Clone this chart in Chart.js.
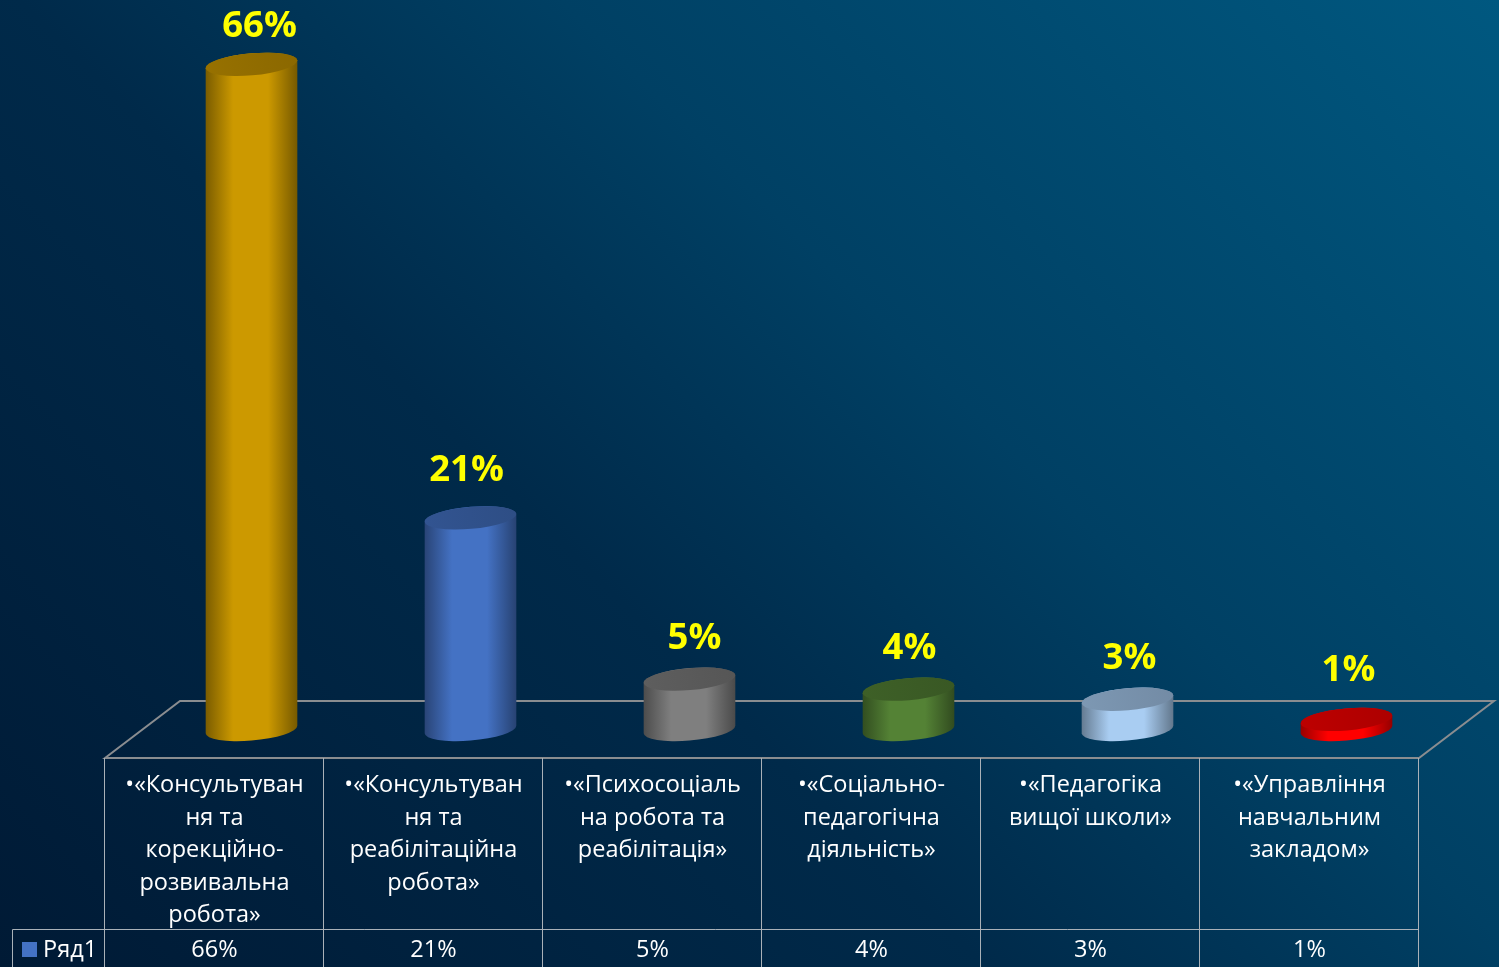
<!DOCTYPE html>
<html lang="uk">
<head>
<meta charset="utf-8">
<title>Chart</title>
<script src="https://cdn.jsdelivr.net/npm/chart.js@4"></script>
<style>
html,body{margin:0;padding:0;width:1499px;height:967px;overflow:hidden;background:linear-gradient(45deg,#001a35 0%,#002a4a 40%,#004064 62%,#005880 100%);}
canvas{display:block}
</style>
</head>
<body>
<canvas id="c" width="1499" height="967"></canvas>
<script>
const categories = [
  ["•«Консультуван","ня та","корекційно-","розвивальна","робота»"],
  ["•«Консультуван","ня та","реабілітаційна","робота»"],
  ["•«Психосоціаль","на робота та","реабілітація»"],
  ["•«Соціально-","педагогічна","діяльність»"],
  ["•«Педагогіка","вищої школи»"],
  ["•«Управління","навчальним","закладом»"]
];
const seriesName = "Ряд1";
const values = [66, 21, 5, 4, 3, 1];
const barColors = ["#CC9900", "#4472C4", "#7F7F7F", "#548235", "#A9CDF2", "#FF0000"];
const labelNudgeX = [8, -4, 5, 1, 2, 2];
const labelNudgeY = [4, -5, 2, 1, 1, -7];

const FONT = '"Open Sans", sans-serif';
const DEPTH_X = 37, FRONT_Y = 758, BACK_Y = 701, ROW_Y = 929, LEGEND_X = 12;
const TILT = -5 * Math.PI / 180;

function shade(hex, k) {
  const n = parseInt(hex.slice(1), 16);
  const c = s => Math.round(((n >> s) & 255) * k);
  return `rgb(${c(16)},${c(8)},${c(0)})`;
}

Chart.BarElement.prototype.draw = function (ctx) {
  const x = this.x, top = this.y, base = this.base, a = this.width / 2, b = 11;
  const col = this.options.backgroundColor;
  const t0 = Math.atan(-(b / a) * Math.tan(TILT));
  const g = ctx.createLinearGradient(x - a, 0, x + a, 0);
  g.addColorStop(0, shade(col, .6));
  g.addColorStop(.3, shade(col, 1));
  g.addColorStop(.68, shade(col, 1));
  g.addColorStop(1, shade(col, .58));
  ctx.save();
  ctx.beginPath();
  ctx.ellipse(x, base, a, b, TILT, t0, t0 + Math.PI);
  ctx.ellipse(x, top, a, b, TILT, t0 + Math.PI, t0 + 2 * Math.PI);
  ctx.closePath();
  ctx.fillStyle = g;
  ctx.fill();
  const cap = ctx.createLinearGradient(x - a, top + 6, x + a, top - 6);
  cap.addColorStop(0, shade(col, .74));
  cap.addColorStop(1, shade(col, .68));
  ctx.beginPath();
  ctx.ellipse(x, top, a, b, TILT, 0, 2 * Math.PI);
  ctx.fillStyle = cap;
  ctx.fill();
  ctx.restore();
};

const stage = {
  id: "stage",
  beforeDatasetsDraw(chart) {
    const { ctx } = chart, sx = chart.scales.x;
    const l = sx.left - DEPTH_X, r = sx.right - DEPTH_X;
    const backL = sx.left + 38, backR = sx.right + 38;
    ctx.save();
    ctx.strokeStyle = "#8a8d90";
    ctx.lineWidth = 2;
    ctx.beginPath();
    ctx.moveTo(l, FRONT_Y); ctx.lineTo(backL, BACK_Y); ctx.lineTo(backR, BACK_Y); ctx.lineTo(r, FRONT_Y); ctx.closePath();
    ctx.stroke();
    ctx.restore();
  },
  afterDatasetsDraw(chart) {
    const { ctx } = chart, sx = chart.scales.x;
    const meta = chart.getDatasetMeta(0);
    const step = (sx.right - sx.left) / categories.length;
    const l = sx.left - DEPTH_X;
    ctx.save();
    ctx.strokeStyle = "#a9b1b8";
    ctx.lineWidth = 1;
    ctx.beginPath();
    for (let i = 0; i <= categories.length; i++) {
      const px = Math.round(l + i * step) - .5;
      ctx.moveTo(px, FRONT_Y); ctx.lineTo(px, 967);
    }
    ctx.moveTo(LEGEND_X + .5, ROW_Y + .5); ctx.lineTo(l + categories.length * step, ROW_Y + .5);
    ctx.moveTo(LEGEND_X + .5, ROW_Y + .5); ctx.lineTo(LEGEND_X + .5, 967);
    ctx.stroke();

    ctx.fillStyle = "#4472C4";
    ctx.fillRect(22, 942, 15, 15);
    ctx.fillStyle = "#ffffff";
    ctx.font = `23.5px ${FONT}`;
    ctx.textBaseline = "middle";
    ctx.textAlign = "left";
    ctx.fillText(seriesName, 43, 950);
    ctx.textAlign = "center";
    values.forEach((v, i) => ctx.fillText(v + "%", l + (i + .5) * step, 950));

    ctx.fillStyle = "#FFFF00";
    ctx.font = `bold 36.5px ${FONT}`;
    values.forEach((v, i) => {
      const el = meta.data[i];
      ctx.fillText(v + "%", el.x + labelNudgeX[i], el.y - 42 + labelNudgeY[i]);
    });
    ctx.restore();
  }
};

new Chart(document.getElementById("c"), {
  type: "bar",
  data: {
    labels: categories,
    datasets: [{
      label: seriesName,
      data: values,
      backgroundColor: barColors,
      barPercentage: 0.42,
      categoryPercentage: 1,
      clip: false
    }]
  },
  plugins: [stage],
  options: {
    responsive: false,
    animation: false,
    layout: { padding: { left: 142, right: 43, top: 24, bottom: 0 } },
    plugins: { legend: { display: false }, tooltip: { enabled: false } },
    scales: {
      x: {
        grid: { display: false },
        border: { display: false },
        afterFit(s) { s.height = 237.5; },
        ticks: {
          color: "#ffffff",
          font: { family: '"Open Sans", sans-serif', size: 23.5, lineHeight: 1.38 },
          labelOffset: -37,
          padding: 32,
          maxRotation: 0,
          minRotation: 0,
          autoSkip: false,
          align: "center"
        }
      },
      y: { display: false, min: 0, max: 70 }
    }
  }
});
</script>
</body>
</html>
